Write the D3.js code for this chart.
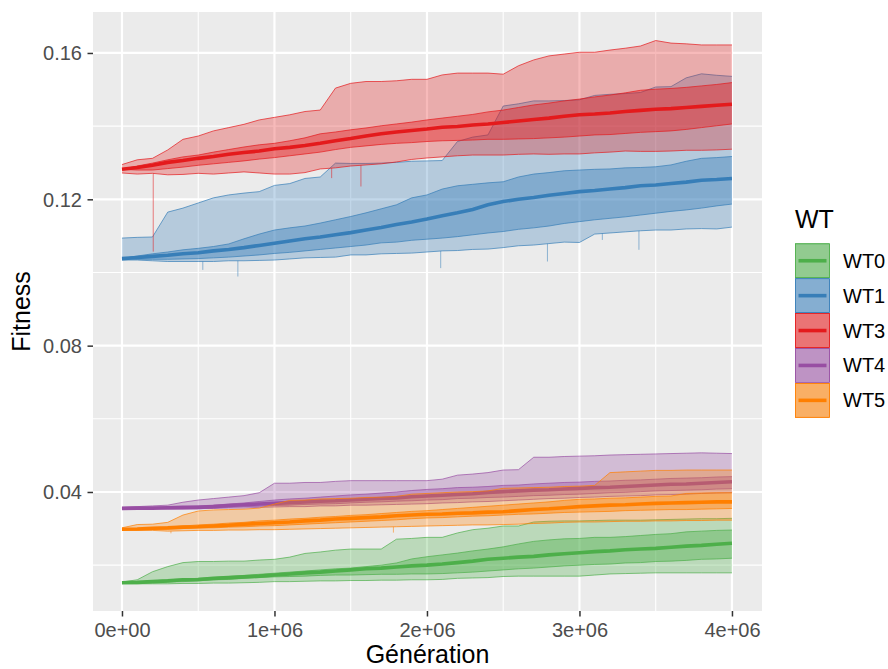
<!DOCTYPE html>
<html lang="fr">
<head>
<meta charset="UTF-8">
<title>Fitness par génération</title>
<script src="https://cdn.jsdelivr.net/npm/d3@7"></script>
<style>
  body { margin: 0; background: #fff; }
  svg { display: block; font-family: "Liberation Sans", Arial, sans-serif; }
  .axis .tick text { font-size: 20px; fill: #4d4d4d; }
  .axis .tick line { stroke: #333; stroke-width: 1.5px; }
  .axis .domain { display: none; }
</style>
</head>
<body>
<svg width="888" height="669"></svg>
<script>
// generations sampled every 100 000
var generations = [0, 100000, 200000, 300000, 400000, 500000, 600000, 700000, 800000, 900000,
  1000000, 1100000, 1200000, 1300000, 1400000, 1500000, 1600000, 1700000, 1800000, 1900000,
  2000000, 2100000, 2200000, 2300000, 2400000, 2500000, 2600000, 2700000, 2800000, 2900000,
  3000000, 3100000, 3200000, 3300000, 3400000, 3500000, 3600000, 3700000, 3800000, 3900000, 4000000];

var seriesNames = ["WT0", "WT1", "WT3", "WT4", "WT5"];
var seriesColors = ["#4DAF4A", "#377EB8", "#E41A1C", "#984EA3", "#FF7F00"];

var xTicks = [0, 1000000, 2000000, 3000000, 4000000];
var xMinor = [500000, 1500000, 2500000, 3500000];
var yTicks = [0.04, 0.08, 0.12, 0.16];
var yMinor = [0.02, 0.06, 0.10, 0.14];

// WT0
var wt0Min = [0.0150, 0.0149, 0.0149, 0.0149, 0.0150, 0.0150, 0.0151, 0.0151, 0.0152, 0.0153, 0.0155, 0.0155, 0.0156, 0.0157, 0.0157, 0.0158, 0.0158, 0.0159, 0.0159, 0.0160, 0.0160, 0.0161, 0.0164, 0.0165, 0.0166, 0.0169, 0.0170, 0.0170, 0.0170, 0.0170, 0.0170, 0.0173, 0.0176, 0.0177, 0.0178, 0.0179, 0.0179, 0.0179, 0.0179, 0.0179, 0.0179];
var wt0Q1 = [0.0152, 0.0151, 0.0153, 0.0154, 0.0155, 0.0157, 0.0160, 0.0161, 0.0164, 0.0166, 0.0168, 0.0169, 0.0170, 0.0172, 0.0173, 0.0173, 0.0174, 0.0175, 0.0175, 0.0176, 0.0176, 0.0177, 0.0179, 0.0181, 0.0184, 0.0187, 0.0190, 0.0192, 0.0195, 0.0198, 0.0200, 0.0202, 0.0203, 0.0206, 0.0207, 0.0210, 0.0211, 0.0213, 0.0216, 0.0217, 0.0219];
var wt0Med = [0.0152, 0.0153, 0.0155, 0.0157, 0.0160, 0.0161, 0.0164, 0.0166, 0.0168, 0.0170, 0.0173, 0.0176, 0.0179, 0.0181, 0.0184, 0.0187, 0.0190, 0.0192, 0.0195, 0.0198, 0.0200, 0.0203, 0.0207, 0.0211, 0.0216, 0.0219, 0.0222, 0.0224, 0.0228, 0.0231, 0.0234, 0.0237, 0.0239, 0.0242, 0.0244, 0.0246, 0.0249, 0.0252, 0.0254, 0.0257, 0.0260];
var wt0Q3 = [0.0152, 0.0154, 0.0157, 0.0160, 0.0162, 0.0164, 0.0166, 0.0169, 0.0172, 0.0175, 0.0178, 0.0181, 0.0184, 0.0187, 0.0190, 0.0192, 0.0196, 0.0200, 0.0206, 0.0217, 0.0223, 0.0228, 0.0233, 0.0239, 0.0244, 0.0250, 0.0258, 0.0265, 0.0269, 0.0272, 0.0273, 0.0276, 0.0276, 0.0278, 0.0281, 0.0284, 0.0286, 0.0291, 0.0293, 0.0295, 0.0296];
var wt0Max = [0.0154, 0.0160, 0.0182, 0.0196, 0.0207, 0.0210, 0.0210, 0.0211, 0.0211, 0.0214, 0.0216, 0.0222, 0.0232, 0.0236, 0.0241, 0.0244, 0.0244, 0.0244, 0.0271, 0.0273, 0.0276, 0.0276, 0.0288, 0.0297, 0.0301, 0.0307, 0.0307, 0.0318, 0.0320, 0.0321, 0.0321, 0.0322, 0.0323, 0.0323, 0.0323, 0.0324, 0.0325, 0.0326, 0.0327, 0.0327, 0.0328];

// WT1
var wt1Min = [0.1034, 0.1034, 0.1032, 0.1030, 0.1030, 0.1030, 0.1030, 0.1032, 0.1032, 0.1033, 0.1034, 0.1037, 0.1040, 0.1041, 0.1042, 0.1048, 0.1048, 0.1051, 0.1052, 0.1053, 0.1056, 0.1059, 0.1060, 0.1063, 0.1064, 0.1068, 0.1073, 0.1075, 0.1079, 0.1083, 0.1082, 0.1105, 0.1108, 0.1111, 0.1114, 0.1116, 0.1116, 0.1119, 0.1120, 0.1119, 0.1124];
var wt1Q1 = [0.1038, 0.1036, 0.1036, 0.1036, 0.1037, 0.1038, 0.1040, 0.1042, 0.1045, 0.1048, 0.1052, 0.1055, 0.1059, 0.1063, 0.1067, 0.1071, 0.1075, 0.1081, 0.1083, 0.1088, 0.1091, 0.1094, 0.1098, 0.1103, 0.1108, 0.1112, 0.1118, 0.1122, 0.1127, 0.1134, 0.1139, 0.1144, 0.1148, 0.1152, 0.1157, 0.1162, 0.1167, 0.1171, 0.1176, 0.1182, 0.1187];
var wt1Med = [0.1038, 0.1041, 0.1044, 0.1047, 0.1051, 0.1054, 0.1059, 0.1063, 0.1068, 0.1074, 0.1080, 0.1086, 0.1092, 0.1097, 0.1103, 0.1109, 0.1116, 0.1123, 0.1131, 0.1138, 0.1146, 0.1155, 0.1163, 0.1172, 0.1185, 0.1194, 0.1200, 0.1205, 0.1211, 0.1216, 0.1221, 0.1224, 0.1228, 0.1232, 0.1237, 0.1239, 0.1243, 0.1247, 0.1252, 0.1254, 0.1257];
var wt1Q3 = [0.1038, 0.1045, 0.1051, 0.1056, 0.1062, 0.1066, 0.1071, 0.1078, 0.1092, 0.1105, 0.1116, 0.1122, 0.1127, 0.1135, 0.1144, 0.1153, 0.1163, 0.1174, 0.1185, 0.1204, 0.1212, 0.1228, 0.1237, 0.1241, 0.1245, 0.1248, 0.1261, 0.1269, 0.1273, 0.1278, 0.1280, 0.1282, 0.1283, 0.1286, 0.1287, 0.1289, 0.1294, 0.1304, 0.1312, 0.1314, 0.1317];
var wt1Max = [0.1094, 0.1096, 0.1097, 0.1165, 0.1176, 0.1190, 0.1204, 0.1212, 0.1217, 0.1221, 0.1238, 0.1243, 0.1257, 0.1261, 0.1299, 0.1298, 0.1298, 0.1299, 0.1301, 0.1304, 0.1305, 0.1306, 0.1358, 0.1370, 0.1376, 0.1455, 0.1461, 0.1469, 0.1469, 0.1470, 0.1472, 0.1484, 0.1487, 0.1489, 0.1492, 0.1507, 0.1508, 0.1532, 0.1543, 0.1539, 0.1536];

// WT3
var wt3Min = [0.1272, 0.1269, 0.1271, 0.1267, 0.1268, 0.1271, 0.1269, 0.1272, 0.1275, 0.1272, 0.1269, 0.1269, 0.1273, 0.1283, 0.1286, 0.1291, 0.1294, 0.1297, 0.1302, 0.1309, 0.1313, 0.1316, 0.1319, 0.1321, 0.1321, 0.1321, 0.1323, 0.1324, 0.1323, 0.1324, 0.1324, 0.1327, 0.1329, 0.1332, 0.1331, 0.1331, 0.1332, 0.1334, 0.1334, 0.1335, 0.1337];
var wt3Q1 = [0.1282, 0.1280, 0.1280, 0.1284, 0.1288, 0.1293, 0.1297, 0.1301, 0.1305, 0.1310, 0.1314, 0.1319, 0.1324, 0.1329, 0.1336, 0.1342, 0.1346, 0.1350, 0.1353, 0.1355, 0.1358, 0.1360, 0.1361, 0.1362, 0.1364, 0.1364, 0.1365, 0.1366, 0.1368, 0.1370, 0.1373, 0.1376, 0.1377, 0.1380, 0.1383, 0.1385, 0.1387, 0.1391, 0.1396, 0.1401, 0.1406];
var wt3Med = [0.1282, 0.1287, 0.1293, 0.1301, 0.1306, 0.1312, 0.1317, 0.1323, 0.1328, 0.1332, 0.1338, 0.1342, 0.1347, 0.1353, 0.1360, 0.1366, 0.1373, 0.1379, 0.1384, 0.1388, 0.1392, 0.1397, 0.1399, 0.1403, 0.1406, 0.1410, 0.1414, 0.1418, 0.1422, 0.1427, 0.1431, 0.1433, 0.1436, 0.1440, 0.1443, 0.1446, 0.1448, 0.1451, 0.1454, 0.1457, 0.1460];
var wt3Q3 = [0.1282, 0.1291, 0.1299, 0.1308, 0.1316, 0.1321, 0.1329, 0.1336, 0.1343, 0.1349, 0.1353, 0.1360, 0.1368, 0.1379, 0.1384, 0.1390, 0.1395, 0.1401, 0.1406, 0.1411, 0.1417, 0.1422, 0.1427, 0.1432, 0.1439, 0.1444, 0.1451, 0.1458, 0.1463, 0.1469, 0.1474, 0.1480, 0.1485, 0.1491, 0.1498, 0.1501, 0.1503, 0.1506, 0.1510, 0.1514, 0.1519];
var wt3Max = [0.1295, 0.1308, 0.1312, 0.1335, 0.1364, 0.1373, 0.1387, 0.1396, 0.1405, 0.1417, 0.1424, 0.1431, 0.1440, 0.1444, 0.1504, 0.1517, 0.1522, 0.1522, 0.1524, 0.1528, 0.1528, 0.1540, 0.1545, 0.1545, 0.1545, 0.1542, 0.1565, 0.1581, 0.1592, 0.1597, 0.1602, 0.1602, 0.1608, 0.1613, 0.1619, 0.1634, 0.1627, 0.1625, 0.1622, 0.1622, 0.1622];

// WT4
var wt4Min = [0.0353, 0.0353, 0.0354, 0.0353, 0.0353, 0.0354, 0.0355, 0.0356, 0.0356, 0.0358, 0.0359, 0.0360, 0.0360, 0.0362, 0.0362, 0.0364, 0.0364, 0.0365, 0.0366, 0.0367, 0.0368, 0.0370, 0.0371, 0.0373, 0.0374, 0.0376, 0.0378, 0.0380, 0.0382, 0.0383, 0.0385, 0.0386, 0.0388, 0.0389, 0.0390, 0.0392, 0.0393, 0.0394, 0.0396, 0.0397, 0.0398];
var wt4Q1 = [0.0355, 0.0355, 0.0355, 0.0355, 0.0356, 0.0356, 0.0357, 0.0358, 0.0360, 0.0361, 0.0363, 0.0364, 0.0366, 0.0367, 0.0368, 0.0370, 0.0372, 0.0373, 0.0375, 0.0376, 0.0378, 0.0379, 0.0382, 0.0383, 0.0385, 0.0386, 0.0388, 0.0390, 0.0391, 0.0393, 0.0394, 0.0396, 0.0398, 0.0399, 0.0401, 0.0403, 0.0404, 0.0405, 0.0406, 0.0408, 0.0409];
var wt4Med = [0.0355, 0.0356, 0.0356, 0.0357, 0.0358, 0.0358, 0.0360, 0.0363, 0.0365, 0.0367, 0.0369, 0.0371, 0.0373, 0.0375, 0.0376, 0.0378, 0.0380, 0.0382, 0.0384, 0.0387, 0.0389, 0.0391, 0.0393, 0.0395, 0.0399, 0.0401, 0.0403, 0.0405, 0.0406, 0.0408, 0.0410, 0.0412, 0.0413, 0.0415, 0.0417, 0.0419, 0.0421, 0.0422, 0.0424, 0.0426, 0.0428];
var wt4Q3 = [0.0355, 0.0356, 0.0357, 0.0358, 0.0360, 0.0362, 0.0364, 0.0367, 0.0370, 0.0374, 0.0378, 0.0381, 0.0383, 0.0386, 0.0389, 0.0392, 0.0394, 0.0397, 0.0400, 0.0404, 0.0407, 0.0409, 0.0412, 0.0413, 0.0415, 0.0418, 0.0419, 0.0422, 0.0424, 0.0426, 0.0427, 0.0429, 0.0430, 0.0432, 0.0433, 0.0435, 0.0437, 0.0438, 0.0439, 0.0441, 0.0442];
var wt4Max = [0.0359, 0.0360, 0.0362, 0.0364, 0.0372, 0.0378, 0.0382, 0.0386, 0.0390, 0.0398, 0.0424, 0.0424, 0.0426, 0.0426, 0.0429, 0.0431, 0.0431, 0.0431, 0.0431, 0.0431, 0.0431, 0.0435, 0.0446, 0.0449, 0.0453, 0.0460, 0.0461, 0.0495, 0.0495, 0.0497, 0.0498, 0.0499, 0.0501, 0.0502, 0.0503, 0.0504, 0.0505, 0.0506, 0.0507, 0.0506, 0.0505];

// WT5
var wt5Min = [0.0296, 0.0295, 0.0295, 0.0293, 0.0294, 0.0295, 0.0295, 0.0296, 0.0296, 0.0297, 0.0297, 0.0298, 0.0299, 0.0300, 0.0301, 0.0302, 0.0303, 0.0304, 0.0305, 0.0306, 0.0307, 0.0308, 0.0309, 0.0310, 0.0310, 0.0311, 0.0312, 0.0314, 0.0315, 0.0317, 0.0318, 0.0318, 0.0319, 0.0320, 0.0320, 0.0321, 0.0321, 0.0322, 0.0322, 0.0323, 0.0323];
var wt5Q1 = [0.0298, 0.0297, 0.0298, 0.0299, 0.0300, 0.0302, 0.0302, 0.0304, 0.0305, 0.0307, 0.0308, 0.0310, 0.0312, 0.0314, 0.0316, 0.0318, 0.0320, 0.0322, 0.0324, 0.0327, 0.0329, 0.0330, 0.0332, 0.0334, 0.0335, 0.0337, 0.0339, 0.0340, 0.0342, 0.0344, 0.0345, 0.0346, 0.0347, 0.0349, 0.0350, 0.0351, 0.0352, 0.0352, 0.0353, 0.0354, 0.0355];
var wt5Med = [0.0298, 0.0299, 0.0301, 0.0302, 0.0304, 0.0305, 0.0307, 0.0309, 0.0312, 0.0314, 0.0316, 0.0318, 0.0321, 0.0323, 0.0326, 0.0328, 0.0330, 0.0332, 0.0335, 0.0337, 0.0339, 0.0340, 0.0342, 0.0343, 0.0345, 0.0346, 0.0349, 0.0352, 0.0354, 0.0357, 0.0360, 0.0362, 0.0364, 0.0365, 0.0367, 0.0369, 0.0370, 0.0371, 0.0372, 0.0373, 0.0373];
var wt5Q3 = [0.0298, 0.0299, 0.0302, 0.0304, 0.0307, 0.0310, 0.0312, 0.0315, 0.0317, 0.0321, 0.0323, 0.0326, 0.0328, 0.0331, 0.0333, 0.0336, 0.0338, 0.0341, 0.0344, 0.0347, 0.0349, 0.0352, 0.0355, 0.0358, 0.0361, 0.0364, 0.0367, 0.0370, 0.0373, 0.0377, 0.0380, 0.0381, 0.0383, 0.0384, 0.0386, 0.0388, 0.0389, 0.0396, 0.0397, 0.0398, 0.0398];
var wt5Max = [0.0302, 0.0311, 0.0312, 0.0317, 0.0337, 0.0348, 0.0351, 0.0352, 0.0353, 0.0356, 0.0367, 0.0377, 0.0378, 0.0381, 0.0382, 0.0383, 0.0385, 0.0386, 0.0388, 0.0394, 0.0396, 0.0398, 0.0400, 0.0401, 0.0403, 0.0410, 0.0411, 0.0412, 0.0413, 0.0415, 0.0416, 0.0418, 0.0453, 0.0455, 0.0457, 0.0459, 0.0459, 0.0460, 0.0460, 0.0460, 0.0460];

// single-generation drops below the minimum
var wt1DipGen = [530000, 760000, 2090000, 2790000, 3150000, 3390000];
var wt1DipFit = [0.1007, 0.0989, 0.1012, 0.1030, 0.1089, 0.1062];
var wt3DipGen = [205000, 1375000, 1567000];
var wt3DipFit = [0.1057, 0.1258, 0.1235];
var wt5DipGen = [321000, 1780000];
var wt5DipFit = [0.0287, 0.0289];

var series = [
  { min: wt0Min, q1: wt0Q1, med: wt0Med, q3: wt0Q3, max: wt0Max, dipGen: [], dipFit: [] },
  { min: wt1Min, q1: wt1Q1, med: wt1Med, q3: wt1Q3, max: wt1Max, dipGen: wt1DipGen, dipFit: wt1DipFit },
  { min: wt3Min, q1: wt3Q1, med: wt3Med, q3: wt3Q3, max: wt3Max, dipGen: wt3DipGen, dipFit: wt3DipFit },
  { min: wt4Min, q1: wt4Q1, med: wt4Med, q3: wt4Q3, max: wt4Max, dipGen: [], dipFit: [] },
  { min: wt5Min, q1: wt5Q1, med: wt5Med, q3: wt5Q3, max: wt5Max, dipGen: wt5DipGen, dipFit: wt5DipFit }
];
series.forEach(function(s, i) { s.name = seriesNames[i]; s.color = seriesColors[i]; });

var svg = d3.select("svg");
var pLeft = 93, pRight = 762, pTop = 12, pBottom = 611;

var x = d3.scaleLinear().domain([-190000, 4197000]).range([pLeft, pRight]);
var y = d3.scaleLinear().domain([0.00747, 0.1712]).range([pBottom, pTop]);

// panel + grid
svg.append("rect").attr("x", pLeft).attr("y", pTop)
  .attr("width", pRight - pLeft).attr("height", pBottom - pTop).attr("fill", "#EBEBEB");

var grid = svg.append("g").attr("stroke", "#fff");
grid.selectAll(".vmin").data(xMinor).enter().append("line")
  .attr("x1", function(d) { return x(d); }).attr("x2", function(d) { return x(d); })
  .attr("y1", pTop).attr("y2", pBottom).attr("stroke-width", 1.1);
grid.selectAll(".hmin").data(yMinor).enter().append("line")
  .attr("y1", function(d) { return y(d); }).attr("y2", function(d) { return y(d); })
  .attr("x1", pLeft).attr("x2", pRight).attr("stroke-width", 1.1);
grid.selectAll(".vmaj").data(xTicks).enter().append("line")
  .attr("x1", function(d) { return x(d); }).attr("x2", function(d) { return x(d); })
  .attr("y1", pTop).attr("y2", pBottom).attr("stroke-width", 2.2);
grid.selectAll(".hmaj").data(yTicks).enter().append("line")
  .attr("y1", function(d) { return y(d); }).attr("y2", function(d) { return y(d); })
  .attr("x1", pLeft).attr("x2", pRight).attr("stroke-width", 2.2);

function valueAt(arr, gen) {
  var i = Math.min(d3.bisectRight(generations, gen) - 1, generations.length - 2);
  var t = (gen - generations[i]) / (generations[i + 1] - generations[i]);
  return arr[i] + t * (arr[i + 1] - arr[i]);
}

function band(g, color, lo, hi, alpha) {
  var area = d3.area()
    .x(function(d, i) { return x(generations[i]); })
    .y0(function(d, i) { return y(lo[i]); })
    .y1(function(d, i) { return y(hi[i]); });
  var edge = d3.line().x(function(d, i) { return x(generations[i]); }).y(function(d) { return y(d); });
  g.append("path").attr("d", area(lo)).attr("fill", color).attr("fill-opacity", alpha);
  [lo, hi].forEach(function(arr) {
    g.append("path").attr("d", edge(arr)).attr("fill", "none")
      .attr("stroke", color).attr("stroke-width", 0.7);
  });
}

var medLine = d3.line()
  .x(function(d, i) { return x(generations[i]); })
  .y(function(d) { return y(d); });

series.forEach(function(s) {
  var g = svg.append("g");
  band(g, s.color, s.min, s.max, 0.3);
  s.dipGen.forEach(function(gen, k) {
    g.append("line")
      .attr("x1", x(gen)).attr("x2", x(gen))
      .attr("y1", y(valueAt(s.min, gen))).attr("y2", y(s.dipFit[k]))
      .attr("stroke", s.color).attr("stroke-width", 0.9).attr("stroke-opacity", 0.6);
  });
  band(g, s.color, s.q1, s.q3, 0.4);
  g.append("path").attr("d", medLine(s.med)).attr("fill", "none")
    .attr("stroke", s.color).attr("stroke-width", 3.6);
});

// axes
function sci(d) {
  if (d === 0) return "0e+00";
  var e = Math.floor(Math.log10(d));
  return (d / Math.pow(10, e)) + "e+" + String(e).padStart(2, "0");
}

svg.append("g").attr("class", "axis")
  .attr("transform", "translate(0," + pBottom + ")")
  .call(d3.axisBottom(x).tickValues(xTicks).tickFormat(sci).tickSize(5.5).tickPadding(6));

svg.append("g").attr("class", "axis")
  .attr("transform", "translate(" + pLeft + ",0)")
  .call(d3.axisLeft(y).tickValues(yTicks).tickFormat(d3.format(".2f")).tickSize(5.5).tickPadding(5.5))
  .selectAll(".tick text").attr("dy", "0.35em");

svg.append("text").attr("x", (pLeft + pRight) / 2).attr("y", 663)
  .attr("text-anchor", "middle").attr("font-size", 25).attr("fill", "#000")
  .text("Génération");

svg.append("text").attr("transform", "translate(30," + ((pTop + pBottom) / 2) + ") rotate(-90)")
  .attr("text-anchor", "middle").attr("font-size", 25).attr("fill", "#000")
  .text("Fitness");

// legend
var lg = svg.append("g").attr("transform", "translate(795,0)");
lg.append("text").attr("x", 0).attr("y", 228).attr("font-size", 25).attr("fill", "#000").text("WT");

var keyTop = 243.3, keyH = 34.9, keyW = 35;
series.forEach(function(s, i) {
  var k = lg.append("g").attr("transform", "translate(0," + (keyTop + i * keyH) + ")");
  k.append("rect").attr("width", keyW).attr("height", keyH).attr("fill", "#F2F2F2");
  k.append("rect").attr("x", 0.5).attr("y", 0.5).attr("width", keyW - 1).attr("height", keyH - 1)
    .attr("fill", s.color).attr("fill-opacity", 0.3).attr("stroke", s.color).attr("stroke-width", 0.7);
  k.append("rect").attr("x", 0.5).attr("y", 0.5).attr("width", keyW - 1).attr("height", keyH - 1)
    .attr("fill", s.color).attr("fill-opacity", 0.4).attr("stroke", s.color).attr("stroke-width", 0.7);
  k.append("line").attr("x1", 3.5).attr("x2", keyW - 3.5).attr("y1", keyH / 2).attr("y2", keyH / 2)
    .attr("stroke", s.color).attr("stroke-width", 3.6);
  k.append("text").attr("x", 48).attr("y", keyH / 2).attr("dy", "0.35em")
    .attr("font-size", 20).attr("fill", "#000").text(s.name);
});
</script>
</body>
</html>
